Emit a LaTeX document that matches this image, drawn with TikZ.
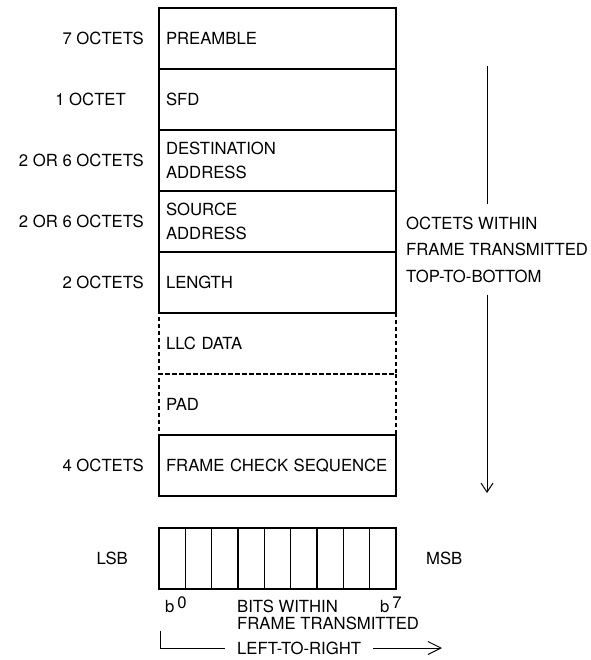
\documentclass[tikz,border=0pt]{standalone}
\usepackage{fontspec}
\setmainfont{TeX Gyre Heros}
\usetikzlibrary{positioning,arrows.meta}

\begin{document}
\begin{tikzpicture}[x=1pt, y=-1pt,
  every node/.style={font=\fontsize{16.7}{24.5}\selectfont},
  field/.style={draw, line width=1.2pt, minimum height=61pt, text width=223pt,
    inner xsep=7pt, inner ysep=0pt, align=left, outer sep=0pt},
  optfield/.style={field, dash pattern=on 4pt off 3pt},
  octets/.style={inner sep=0pt},
  bitcell/.style={draw, line width=1.2pt, minimum width=26.33pt, minimum height=61pt,
    inner sep=0pt, outer sep=0pt},
  arr/.style={-{Straight Barb[length=9pt, width=12pt]}, line width=1pt},
  arr2/.style={-{Straight Barb[length=13pt, width=13pt]}, line width=1pt}]
	\useasboundingbox (0,0) rectangle (590,660);

	% 1. The frame, one field per row
	\node[field] (pre) at (277.5,38.5) {PREAMBLE};
	\node[field, below=0pt of pre] (sfd) {SFD};
	\node[field, below=0pt of sfd] (dst) {DESTINATION\\ADDRESS};
	\node[field, below=0pt of dst] (src) {SOURCE\\ADDRESS};
	\node[field, below=0pt of src] (len) {LENGTH};
	\node[optfield, below=0pt of len] (llc) {LLC DATA};
	\node[optfield, below=0pt of llc] (pad) {PAD};
	\node[field, below=0pt of pad] (fcs) {FRAME CHECK SEQUENCE};

	% 2. Octet counts on the left
	\node[octets, left=15pt of pre] (n1) {7 OCTETS};
	\node[octets, left=33pt of sfd] (n2) {1 OCTET};
	\node[octets, left=15pt of dst] (n3) {2 OR 6 OCTETS};
	\node[octets, left=15pt of src] (n4) {2 OR 6 OCTETS};
	\node[octets, left=15pt of len] (n5) {2 OCTETS};
	\node[octets, left=15pt of fcs] (n6) {4 OCTETS};

	% 3. Order of the octets
	\coordinate (ot) at (487,66);
	\coordinate (ob) at (487,493);
	\node[anchor=west, align=left, inner xsep=0pt, inner ysep=12pt,
	  font=\fontsize{16.7}{26.5}\selectfont] (otxt) at (406,249.5)
	  {OCTETS WITHIN\\FRAME TRANSMITTED\\TOP-TO-BOTTOM};
	\draw[line width=1pt] (ot) -- (ot |- otxt.north);
	\draw[arr] (ot |- otxt.south) -- (ob);

	% 4. One octet, bit by bit
	\node[bitcell] (bit0) at (172.17,558.5) {};
	\foreach \i [remember=\i as \last (initially 0)] in {1,...,8}
		\node[bitcell, right=0pt of bit\last] (bit\i) {};
	\node[octets, left=31pt of bit0] (lsb) {LSB};
	\node[octets, right=30pt of bit8] (msb) {MSB};
	\node[octets, anchor=base west] (b0) at (165,612) {b\,\raisebox{4pt}{0}};
	\node[octets, anchor=base west] (b7) at (380,612) {b\,\raisebox{4pt}{7}};
	\node[octets, anchor=west, align=left, font=\fontsize{16.7}{17}\selectfont]
	  (btxt) at (237,614.5) {BITS WITHIN\\FRAME TRANSMITTED};
	\node[anchor=west, inner xsep=12pt, inner ysep=0pt] (ltr) at (225,648) {LEFT-TO-RIGHT};
	\coordinate (bl) at (160,631);
	\coordinate (br) at (442,648);
	\draw[line width=1pt] (bl) |- (ltr.west);
	\draw[arr2] (ltr.east) -- (br);
\end{tikzpicture}
\end{document}
